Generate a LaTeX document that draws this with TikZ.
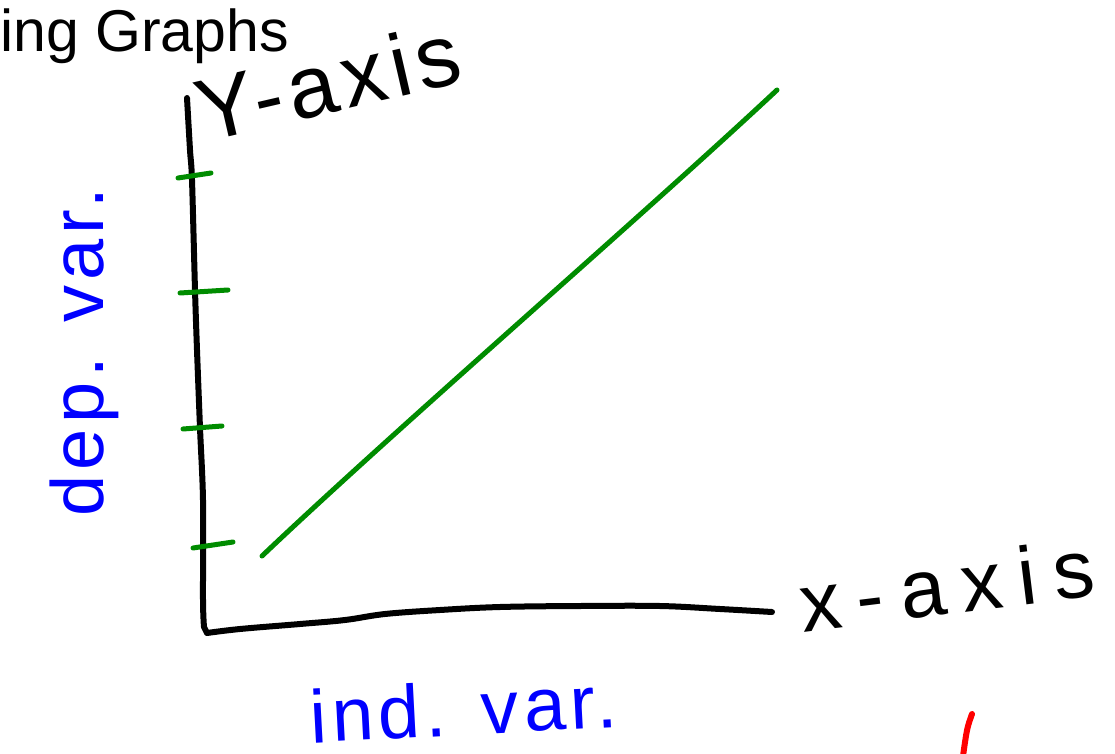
\documentclass[tikz,border=0pt]{standalone}
\usepackage{fontspec}
\setmainfont{Liberation Sans}
\newfontfamily\hand[LetterSpace=7]{Liberation Sans}
\newfontfamily\handwide[LetterSpace=20]{Liberation Sans}
\definecolor{penblue}{RGB}{0,0,255}
\definecolor{pengreen}{RGB}{0,140,0}
\definecolor{penred}{RGB}{255,0,0}
\tikzset{
  axisline/.style={draw=black, line width=6pt, line cap=round, line join=round},
  greenline/.style={draw=pengreen, line width=5pt, line cap=round},
  bluetext/.style={text=penblue, inner sep=0pt},
  blacktext/.style={text=black, inner sep=0pt},
}
\begin{document}
\begin{tikzpicture}[x=1pt,y=-1pt]
\useasboundingbox (0,0) rectangle (1115,754);
% title fragment
\node[blacktext, anchor=base west, font=\fontsize{59}{62}\selectfont] (title) at (0,52) {ing Graphs};
% axes
\coordinate (origin) at (207,633);
\draw[axisline] plot[smooth, tension=0.5] coordinates {(187,98) (190,150) (192,180) (195,290) (197,350) (200,428) (203,500) (203,600) (204,627)}
  -- (origin) -- plot[smooth, tension=0.6] coordinates {(207,633) (240,629) (300,624) (345,620) (385,614) (440,610) (500,607) (580,606) (660,606) (720,609) (772,612)};
% ticks
\draw[greenline] (178,178) -- (211,173);
\draw[greenline] (180,293) -- (228,290);
\draw[greenline] (183,429) -- (222,426);
\draw[greenline] (193,548) -- (233,542);
% data line
\coordinate (lstart) at (262,556);
\coordinate (lend) at (777,90);
\draw[greenline] (lstart) .. controls (400,425) and (640,218) .. (lend);
% axis labels
\node[blacktext, rotate=13, anchor=base, font=\hand\fontsize{88}{90}\selectfont] (ylab) at (335,112) {Y-axis};
\node[blacktext, rotate=7, anchor=base, font=\handwide\fontsize{82}{84}\selectfont] (xlab) at (950,614) {x-axis};
\node[bluetext, rotate=90, anchor=base, font=\hand\fontsize{74}{76}\selectfont] (dep) at (103,352) {dep. var.};
\node[bluetext, rotate=3, anchor=base, font=\hand\fontsize{75}{77}\selectfont] (ind) at (465,735) {ind. var.};
% red mark
\draw[draw=penred, line width=6pt, line cap=round] (972,714) .. controls (967,728) .. (963,756);
\end{tikzpicture}
\end{document}
